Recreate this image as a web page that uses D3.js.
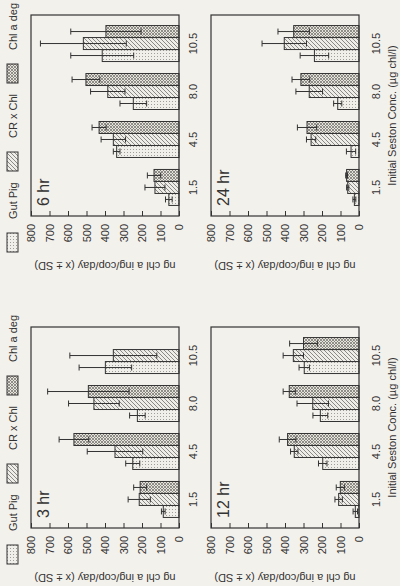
<!DOCTYPE html>
<html>
<head>
<meta charset="utf-8">
<script src="https://cdn.jsdelivr.net/npm/d3@7"></script>
<style>
  body { margin: 0; background: #f3f1ec; }
  text { font-family: "Liberation Sans", Arial, sans-serif; fill: #333; }
</style>
</head>
<body>
<script>
// Ingestion by copepods at four incubation times (figure is printed sideways)
var categories = ["1.5", "4.5", "8.0", "10.5"];
var seriesNames = ["Gut Pig", "CR x Chl", "Chl a deg"];
var valueTicks = [0, 100, 200, 300, 400, 500, 600, 700, 800];

// rows: Gut Pig, CR x Chl, Chl a deg ; columns follow categories
var mean3hr = [[85, 250, 225, 398], [215, 346, 460, 355], [210, 568, 490, null]];
var sd3hr   = [[10, 38, 42, 142], [60, 150, 137, 235], [35, 80, 220, null]];
var mean6hr = [[55, 337, 247, 415], [130, 355, 385, 517], [135, 432, 503, 395]];
var sd6hr   = [[18, 18, 72, 170], [54, 66, 93, 232], [36, 38, 75, 190]];
var mean12hr = [[20, 196, 209, 296], [110, 350, 250, 355], [101, 386, 377, 300]];
var sd12hr   = [[12, 23, 40, 28], [20, 20, 85, 55], [22, 45, 33, 75]];
var mean24hr = [[25, 43, 115, 241], [61, 259, 269, 404], [67, 281, 314, 353]];
var sd24hr   = [[8, 25, 22, 77], [6, 25, 72, 120], [5, 52, 48, 85]];

var ink = "#333";
var paper = "#f3f1ec";
var font = "'Liberation Sans', Arial, sans-serif";

var svg = d3.select("body").append("svg")
    .attr("width", 400)
    .attr("height", 586);

svg.append("rect").attr("width", 400).attr("height", 586).attr("fill", paper);

// fill patterns
var defs = svg.append("defs");

var dots = defs.append("pattern").attr("id", "pat-dots")
    .attr("patternUnits", "userSpaceOnUse").attr("width", 3).attr("height", 3);
dots.append("rect").attr("width", 3).attr("height", 3).attr("fill", "#f1efe9");
dots.append("rect").attr("x", 1).attr("y", 1).attr("width", 1).attr("height", 1).attr("fill", "#a09e9a");

var hatch = defs.append("pattern").attr("id", "pat-hatch")
    .attr("patternUnits", "userSpaceOnUse").attr("width", 4).attr("height", 4);
hatch.append("rect").attr("width", 4).attr("height", 4).attr("fill", "#efede7");
hatch.append("path").attr("d", "M-1,1 L1,-1 M0,4 L4,0 M3,5 L5,3")
    .attr("stroke", "#707070").attr("stroke-width", 0.8);

var check = defs.append("pattern").attr("id", "pat-check")
    .attr("patternUnits", "userSpaceOnUse").attr("width", 3).attr("height", 3);
check.append("rect").attr("width", 3).attr("height", 3).attr("fill", "#e6e3dc");
check.append("path").attr("d", "M0,0 L3,3 M3,0 L0,3")
    .attr("stroke", "#7a7874").attr("stroke-width", 0.8);

var fills = ["url(#pat-dots)", "url(#pat-hatch)", "url(#pat-check)"];

// draw everything upright, then turn it a quarter turn like the printed page
var g = svg.append("g").attr("transform", "translate(0,586) rotate(-90)");

var panelW = 201, panelH = 148;
var panels = [
    {label: "3 hr", mean: mean3hr, sd: sd3hr, u0: 58, v0: 31, top: true},
    {label: "6 hr", mean: mean6hr, sd: sd6hr, u0: 370, v0: 31, top: true},
    {label: "12 hr", mean: mean12hr, sd: sd12hr, u0: 58, v0: 211, top: false},
    {label: "24 hr", mean: mean24hr, sd: sd24hr, u0: 370, v0: 211, top: false}
];

panels.forEach(function(p) {
    var x = d3.scaleBand()
        .domain(categories)
        .range([p.u0, p.u0 + panelW])
        .paddingInner(0.25)
        .paddingOuter(0.22);
    var xs = d3.scaleBand()
        .domain(seriesNames)
        .range([0, x.bandwidth()]);
    var y = d3.scaleLinear()
        .domain([0, 800])
        .range([p.v0 + panelH, p.v0]);

    // bars
    seriesNames.forEach(function(s, si) {
        categories.forEach(function(c, ci) {
            var m = p.mean[si][ci];
            if (m == null) return;
            var sd = p.sd[si][ci];
            var bx = x(c) + xs(s);
            g.append("rect")
                .attr("x", bx)
                .attr("y", y(m))
                .attr("width", xs.bandwidth())
                .attr("height", y(0) - y(m))
                .attr("fill", fills[si])
                .attr("stroke", ink)
                .attr("stroke-width", 1);
            var cx = bx + xs.bandwidth() / 2;
            var lo = Math.max(0, m - sd), hi = m + sd;
            g.append("path")
                .attr("d", "M" + cx + "," + y(lo) + "V" + y(hi)
                    + "M" + (cx - 3) + "," + y(lo) + "H" + (cx + 3)
                    + "M" + (cx - 3) + "," + y(hi) + "H" + (cx + 3))
                .attr("stroke", ink)
                .attr("fill", "none")
                .attr("stroke-width", 1);
        });
    });

    // frame
    g.append("rect")
        .attr("x", p.u0).attr("y", p.v0)
        .attr("width", panelW).attr("height", panelH)
        .attr("fill", "none").attr("stroke", ink).attr("stroke-width", 1.2);

    // value axis with inward ticks
    var ay = g.append("g")
        .attr("transform", "translate(" + p.u0 + ",0)")
        .call(d3.axisLeft(y).tickValues(valueTicks).tickSize(-5).tickPadding(8));
    ay.attr("font-family", font);
    ay.select(".domain").remove();
    ay.selectAll("line").attr("stroke", ink);
    ay.selectAll("text").attr("font-size", 11).attr("fill", ink);

    // category axis
    var ax = g.append("g")
        .attr("transform", "translate(0," + (p.v0 + panelH) + ")")
        .call(d3.axisBottom(x).tickSize(0).tickPadding(p.top ? 10 : 13));
    ax.attr("font-family", font);
    ax.select(".domain").remove();
    ax.selectAll("text").attr("font-size", 11).attr("fill", ink);

    // value axis title
    g.append("text")
        .attr("transform", "translate(" + (p.u0 - 46) + "," + (p.v0 + panelH / 2) + ") rotate(-90)")
        .attr("text-anchor", "middle")
        .attr("font-size", 11)
        .text("ng chl a ing/cop/day (x \u00b1 SD)");

    // time label
    g.append("text")
        .attr("x", p.u0 + 10)
        .attr("y", p.v0 + 18)
        .attr("font-size", 16)
        .text(p.label);

    if (p.top) {
        // legend over the panel
        var legU = [-36, 45, 133];
        seriesNames.forEach(function(s, si) {
            g.append("rect")
                .attr("x", p.u0 + legU[si]).attr("y", 7)
                .attr("width", 19).attr("height", 11)
                .attr("fill", fills[si]).attr("stroke", ink).attr("stroke-width", 1);
            g.append("text")
                .attr("x", p.u0 + legU[si] + 33).attr("y", 17)
                .attr("font-size", 11)
                .text(s);
        });
    } else {
        g.append("text")
            .attr("x", p.u0 + panelW / 2)
            .attr("y", 396)
            .attr("text-anchor", "middle")
            .attr("font-size", 11)
            .text("Initial Seston Conc. (\u00b5g chl/l)");
    }
});
</script>
</body>
</html>
